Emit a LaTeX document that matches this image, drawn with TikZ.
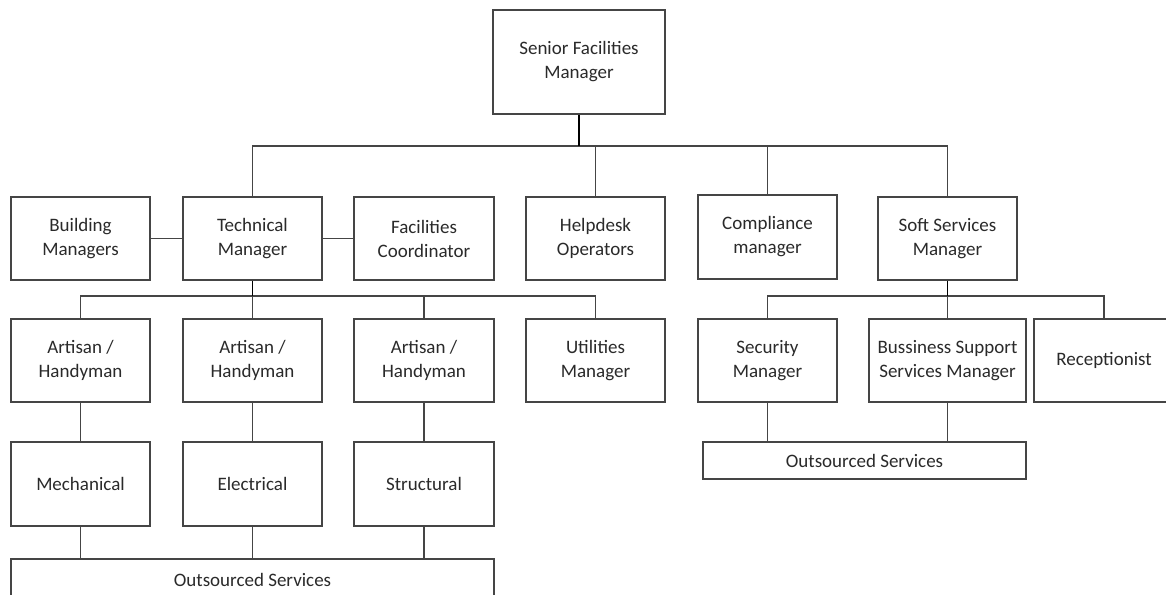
\documentclass[tikz,border=0pt]{standalone}
\usepackage{fontspec}
\setmainfont{Carlito}
\definecolor{boxc}{HTML}{454545}
\definecolor{linec}{HTML}{454545}
\definecolor{textc}{HTML}{2A2A2A}
\begin{document}
\begin{tikzpicture}[x=1pt,y=-1pt,
  box/.style={draw=boxc, line width=1.6pt, fill=white, inner sep=0pt, align=center,
    font=\fontsize{19}{24}\selectfont, text=textc},
  sz/.style n args={2}{minimum width=#1pt, minimum height=#2pt},
  ln/.style={draw=linec, line width=1.5pt},
  trunk/.style={draw=black, line width=1.7pt}]
\clip (0,0) rectangle (1166,594);
\fill[white] (0,0) rectangle (1166,594);

% row 1
\node[box, sz={172}{104}] (sfm) at (579,62) {Senior Facilities\\Manager};

% row 2
\node[box, sz={139}{83}] (bm)   at (80.5,238.5)  {Building\\Managers};
\node[box, sz={139}{83}] (tm)   at (252.5,238.5) {Technical\\Manager};
\node[box, sz={140}{83}] (fc)   at (424,238.5)   {Facilities\\Coordinator};
\node[box, sz={139}{83}] (hd)   at (595.5,238.5) {Helpdesk\\Operators};
\node[box, sz={139}{84}] (cm)   at (767.5,237)   {Compliance\\manager};
\node[box, sz={139}{83}] (ssm)  at (947.5,238.5) {Soft Services\\Manager};

% row 3
\node[box, sz={139}{83}] (ah1)  at (80.5,360.5)  {Artisan /\\Handyman};
\node[box, sz={139}{83}] (ah2)  at (252.5,360.5) {Artisan /\\Handyman};
\node[box, sz={140}{83}] (ah3)  at (424,360.5)   {Artisan /\\Handyman};
\node[box, sz={139}{83}] (um)   at (595.5,360.5) {Utilities\\Manager};
\node[box, sz={139}{83}] (sec)  at (767.5,360.5) {Security\\Manager};
\node[box, sz={157}{83}] (bss)  at (947.5,360.5) {Bussiness Support\\Services Manager};
\node[box, sz={140}{83}] (rec)  at (1104,360.5)  {Receptionist};

% row 4
\node[box, sz={139}{84}] (mech) at (80.5,484)  {Mechanical};
\node[box, sz={139}{84}] (elec) at (252.5,484) {Electrical};
\node[box, sz={140}{84}] (str)  at (424,484)   {Structural};

% outsourced
\node[box, sz={483}{42}] (os1) at (252.5,580) {Outsourced Services};
\node[box, sz={323}{37}] (os2) at (864.5,460.5) {Outsourced Services};

% bus points
\coordinate (bus1) at (579,146);
\coordinate (bus2) at (252.5,296);
\coordinate (bus3) at (947.5,296);

% top level
\draw[ln] (tm.north) |- (bus1) -| (ssm.north);
\draw[trunk] (sfm.south) -- (bus1);
\draw[ln] (hd.north) -- (hd.north |- bus1);
\draw[ln] (cm.north) -- (cm.north |- bus1);

% technical manager side links
\draw[ln] (bm.east) -- (tm.west);
\draw[ln] (tm.east) -- (fc.west);

% technical branch
\draw[ln] (ah1.north) |- (bus2) -| (um.north);
\draw[trunk] (tm.south) -- (bus2);
\draw[ln] (bus2) -- (ah2.north);
\draw[ln] (ah3.north) -- (ah3.north |- bus2);
\draw[ln] (ah1.south) -- (mech.north);
\draw[ln] (ah2.south) -- (elec.north);
\draw[ln] (ah3.south) -- (str.north);
\draw[ln] (mech.south) -- (mech.south |- os1.north);
\draw[ln] (elec.south) -- (elec.south |- os1.north);
\draw[ln] (str.south) -- (str.south |- os1.north);

% soft services branch
\draw[ln] (sec.north) |- (bus3) -| (rec.north);
\draw[trunk] (ssm.south) -- (bus3);
\draw[ln] (bus3) -- (bss.north);
\draw[ln] (sec.south) -- (sec.south |- os2.north);
\draw[ln] (bss.south) -- (bss.south |- os2.north);
\end{tikzpicture}
\end{document}
